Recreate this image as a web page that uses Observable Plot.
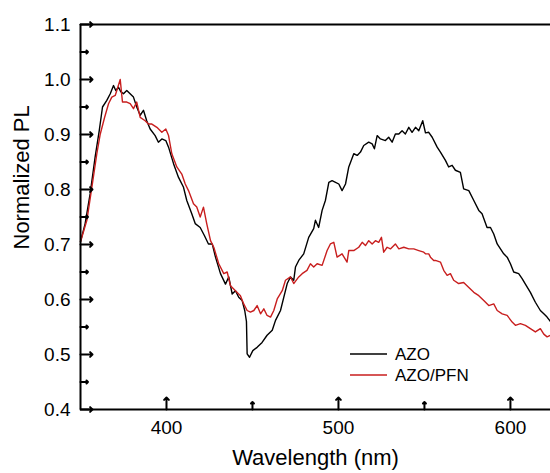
<!DOCTYPE html>
<html>
<head>
<meta charset="utf-8">
<script src="https://cdn.jsdelivr.net/npm/d3@7"></script>
<script src="https://cdn.jsdelivr.net/npm/@observablehq/plot@0.6"></script>
<style>
  html, body { margin: 0; padding: 0; background: #fff; }
</style>
</head>
<body>
<div id="chart"></div>
<script>
// ---- data ----
const seriesNames = ["AZO", "AZO/PFN"];
const seriesColors = ["#000000", "#c81e1e"];

const azoWavelength = [350,352.7,355.6,358.5,360.9,362.8,365.3,367.3,369.2,370.5,372.1,373.4,375,376.9,380.8,382.7,384.7,386.6,388.5,390.5,393.4,395.3,397.3,399.6,401.2,404.1,407,409.9,411.8,414.7,416.7,419.6,422.1,424.4,426.6,428.5,431.4,434.3,436.2,438.2,440.1,442,444,445.5,446.5,446.9,448.3,450.2,452.7,455.6,458.5,461.5,463.4,466.3,468.2,470.2,472.1,474,475,476.9,479.8,482.7,485.6,486.6,488.5,490.5,492.4,494.4,496.3,498.3,500.2,502.1,504.1,506,508.9,510.9,512.8,514.7,517.6,519.6,520.9,522.5,524.4,527.3,529.2,531.2,533.1,535.1,537,538.9,540.9,542.8,544.8,546.7,549,550.6,552.5,554.5,557.4,559.3,562.2,564.1,566.1,568,570.9,572.8,575.8,578.7,581.6,583.5,586.4,588.4,590.3,592.3,596.1,598.1,600,601.9,604.8,606.8,608.7,611.6,614.5,617.4,619.4,621.3,623.3];
const azoPL = [0.705,0.738,0.792,0.859,0.907,0.950,0.962,0.974,0.989,0.980,0.986,0.978,0.974,0.980,0.968,0.950,0.935,0.944,0.925,0.910,0.898,0.886,0.892,0.889,0.877,0.847,0.822,0.804,0.780,0.756,0.738,0.731,0.716,0.701,0.701,0.677,0.647,0.628,0.641,0.610,0.616,0.604,0.598,0.580,0.560,0.501,0.495,0.507,0.513,0.522,0.535,0.544,0.562,0.580,0.604,0.629,0.641,0.635,0.659,0.671,0.683,0.713,0.729,0.744,0.731,0.762,0.780,0.813,0.816,0.813,0.810,0.798,0.810,0.841,0.865,0.862,0.868,0.880,0.886,0.883,0.874,0.898,0.892,0.889,0.895,0.886,0.901,0.901,0.907,0.901,0.913,0.904,0.913,0.907,0.925,0.903,0.904,0.895,0.877,0.868,0.853,0.841,0.844,0.835,0.831,0.801,0.798,0.780,0.762,0.756,0.731,0.731,0.719,0.701,0.683,0.677,0.665,0.650,0.647,0.638,0.628,0.613,0.595,0.580,0.574,0.568,0.560];

const pfnWavelength = [350,353.7,356.6,359.5,361.5,364,366.3,368.2,370.2,371.7,373.1,374.4,376.9,378.9,380.8,382.7,384.7,387.6,389.5,391.5,394.4,397.3,399.6,401.2,403.1,406,408.9,410.9,412.8,415.7,417.6,419.6,421.5,423.4,425.6,427.5,430.4,433.3,435.3,437.2,440.1,443,444.9,446.9,448.8,450.8,452.7,454.7,456.6,458.5,460.5,462.4,464.4,467.3,469.2,472.1,474,476.9,478.9,481.7,483.7,485.6,487.6,490.5,493.4,495.3,497.3,499.2,502.1,505,506,508.9,511.8,513.8,515.7,517.6,519.6,521.5,523.4,525,526.3,528.3,530.2,533.1,535.1,538,540.9,543.8,546.7,549.6,550.6,552.5,553.5,555.4,556.4,559.3,561.2,563.2,565.1,567,569.9,572.8,575.8,578.7,581.6,584.5,587.4,590.3,592.3,595.2,598.1,601,602.9,605.8,608.7,611.6,614.5,617.4,619.4,621.3,623.3];
const pfnPL = [0.705,0.744,0.804,0.865,0.901,0.931,0.956,0.968,0.971,0.986,1.000,0.959,0.959,0.956,0.947,0.959,0.931,0.925,0.919,0.919,0.913,0.904,0.910,0.898,0.865,0.841,0.828,0.810,0.798,0.774,0.768,0.750,0.768,0.738,0.707,0.695,0.665,0.647,0.650,0.625,0.616,0.607,0.592,0.580,0.577,0.580,0.589,0.574,0.583,0.571,0.568,0.580,0.601,0.616,0.635,0.641,0.629,0.641,0.647,0.653,0.665,0.659,0.665,0.662,0.689,0.701,0.704,0.677,0.683,0.668,0.689,0.689,0.695,0.704,0.698,0.707,0.701,0.707,0.704,0.713,0.686,0.695,0.692,0.701,0.692,0.695,0.692,0.692,0.689,0.686,0.683,0.683,0.677,0.671,0.671,0.668,0.653,0.644,0.647,0.635,0.629,0.631,0.622,0.613,0.607,0.598,0.589,0.592,0.580,0.574,0.571,0.559,0.553,0.556,0.553,0.547,0.541,0.547,0.537,0.532,0.535];

const xMajorTicks = [400, 500, 600];
const xMinorTicks = [450, 550];
const yMajorTicks = [0.4, 0.5, 0.6, 0.7, 0.8, 0.9, 1.0, 1.1];
const yMinorTicks = [0.45, 0.55, 0.65, 0.75, 0.85, 0.95, 1.05];
const xLabel = "Wavelength (nm)";
const yLabel = "Normalized PL";

// ---- build tables ----
const rows = [
  ...azoWavelength.map((w, i) => ({wl: w, pl: azoPL[i], series: seriesNames[0]})),
  ...pfnWavelength.map((w, i) => ({wl: w, pl: pfnPL[i], series: seriesNames[1]}))
];
const xTickRows = [
  ...xMajorTicks.map(v => ({v, len: 8})),
  ...xMinorTicks.map(v => ({v, len: 5}))
];
const yTickRows = [
  ...yMajorTicks.map(v => ({v, len: 8})),
  ...yMinorTicks.map(v => ({v, len: 5}))
];

const W = 550, H = 473;
const mL = 80, mR = 0, mT = 24, mB = 64;
const xDomain = [350, 623.3], yDomain = [0.4, 1.1];
const font = "Liberation Sans, Arial, Helvetica, sans-serif";

const chart = Plot.plot({
  width: W,
  height: H,
  marginLeft: mL,
  marginRight: mR,
  marginTop: mT,
  marginBottom: mB,
  style: {fontFamily: font, fontSize: "19px"},
  x: {domain: xDomain},
  y: {domain: yDomain},
  marks: [
    Plot.line(rows.filter(r => r.series === seriesNames[0]), {x: "wl", y: "pl", stroke: seriesColors[0], strokeWidth: 1.4}),
    Plot.line(rows.filter(r => r.series === seriesNames[1]), {x: "wl", y: "pl", stroke: seriesColors[1], strokeWidth: 1.4}),
    // frame lines (left, bottom, top)
    Plot.ruleX([xDomain[0]], {strokeWidth: 2}),
    Plot.ruleY([yDomain[0]], {strokeWidth: 2}),
    Plot.ruleY([yDomain[1]], {strokeWidth: 2}),
    // inward ticks: zero-length dots offset by a vector of the tick length
    Plot.vector(xTickRows, {x: "v", y: yDomain[0], length: "len", rotate: 0, anchor: "start", stroke: "black", strokeWidth: 2}),
    Plot.vector(yTickRows, {x: xDomain[0], y: "v", length: "len", rotate: 90, anchor: "start", stroke: "black", strokeWidth: 2}),
    // tick labels
    Plot.axisX({ticks: xMajorTicks, tickSize: 0, tickPadding: 11, label: null, tickFormat: d => String(d)}),
    Plot.axisY({ticks: yMajorTicks, tickSize: 0, tickPadding: 10, label: null, tickFormat: d => d.toFixed(1)}),
    // axis titles
    Plot.text([xLabel], {text: d => d, frameAnchor: "bottom", dy: 55, fontSize: 22}),
    Plot.text([yLabel], {text: d => d, frameAnchor: "left", rotate: -90, dx: -58.5, dy: 32.5, fontSize: 22})
  ]
});

document.getElementById("chart").appendChild(chart);

// legend (inside the plot area, lower middle-right)
const svg = d3.select(chart);
const leg = svg.append("g").attr("font-family", font).attr("font-size", 17).attr("text-anchor", "start");
seriesNames.forEach((name, i) => {
  const y = 354 + i * 21;
  leg.append("line").attr("x1", 350).attr("x2", 387).attr("y1", y).attr("y2", y)
    .attr("stroke", seriesColors[i]).attr("stroke-width", 1.5);
  leg.append("text").attr("x", 395).attr("y", y).attr("dy", "0.35em")
    .attr("text-anchor", "start").attr("fill", "#000").text(name);
});
</script>
</body>
</html>
